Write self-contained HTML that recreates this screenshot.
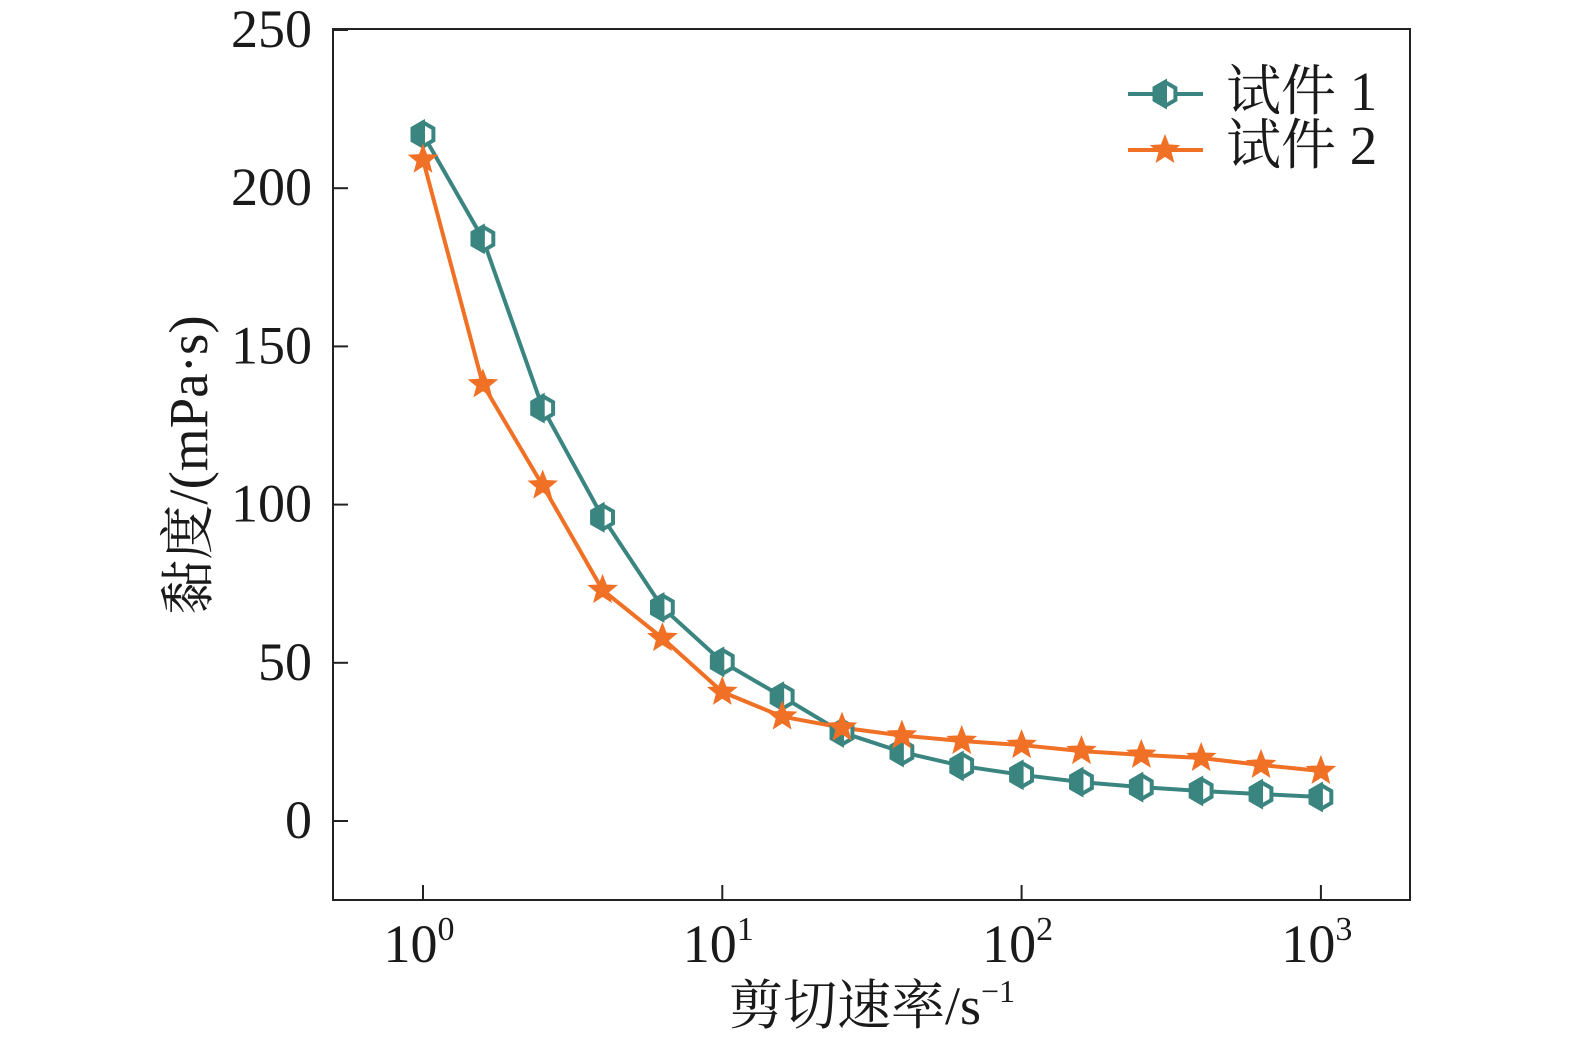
<!DOCTYPE html>
<html><head><meta charset="utf-8"><style>
body{margin:0;background:#fff;}
svg text{font-family:"Liberation Serif","Noto Serif CJK SC",serif;fill:#1a1a1a;}
</style></head><body>
<svg id="chart" width="1575" height="1045" viewBox="0 0 1575 1045" xmlns="http://www.w3.org/2000/svg">
<rect x="333" y="29" width="1077" height="871" fill="none" stroke="#222" stroke-width="2"/>
<g id="axes"></g>
<g id="series"></g>
<text x="872" y="1024" font-size="54" text-anchor="middle">剪切速率/s<tspan font-size="32" dy="-22">−1</tspan></text>
<text transform="translate(207,465) rotate(-90)" font-size="55" text-anchor="middle">黏度/(mPa·s)</text>
<g>
<line x1="1128" y1="94" x2="1203" y2="94" stroke="#3b8580" stroke-width="4"/>
<g id="leg1"></g>
<text x="1226" y="110" font-size="55">试件 1</text>
<line x1="1128" y1="150" x2="1203" y2="150" stroke="#f07026" stroke-width="4"/>
<g id="leg2"></g>
<text x="1226" y="164" font-size="55">试件 2</text>
</g>
</svg>
<script>
const shearRates=[1,1.585,2.512,3.981,6.31,10,15.85,25.12,39.81,63.1,100,158.5,251.2,398.1,631,1000];
const specimen1=[217,184,130.5,96,67.5,50.3,39.3,28,21.8,17.4,14.6,12.3,10.7,9.5,8.5,7.6];
const specimen2=[209,138,106,73,57.8,40.8,33,29.5,27,25.3,24,22.1,20.9,19.9,17.7,15.8];
const yTicks=[0,50,100,150,200,250];
const xTicks=[0,1,2,3];
const NS="http://www.w3.org/2000/svg";
const xs=v=>423+299.3*Math.log10(v);
const ys=v=>821-3.164*v;
function mk(tag,attrs,parent){const e=document.createElementNS(NS,tag);for(const k in attrs)e.setAttribute(k,attrs[k]);parent.appendChild(e);return e;}
const axes=document.getElementById('axes');
yTicks.forEach(t=>{
  const l=mk('line',{x1:333,x2:348,y1:ys(t),y2:ys(t),stroke:'#222','stroke-width':2},axes);
  
  
  const tx=mk('text',{x:312,y:ys(t)+17,'font-size':54,'text-anchor':'end'},axes);
  tx.textContent=t;
  
  
});
xTicks.forEach(t=>{
  const x=xs(Math.pow(10,t));
  const l=mk('line',{x1:x,x2:x,y1:885,y2:900,stroke:'#222','stroke-width':2},axes);
  
  
  const tx=mk('text',{x:x-4,y:962,'font-size':54,'text-anchor':'middle'},axes);
  tx.innerHTML='10<tspan font-size="34" dy="-22">'+t+'</tspan>';
  
  
});
const T='#3b8580',O='#f07026';
function hex(cx,cy,p){
  const r=12,pts=[];
  for(let i=0;i<6;i++){const a=Math.PI/180*(60*i-90);pts.push((cx+r*Math.cos(a)).toFixed(1)+','+(cy+r*Math.sin(a)).toFixed(1));}
  const g=mk('g',{},p);
  mk('polygon',{points:pts.join(' '),fill:'#fff',stroke:T,'stroke-width':4},g);
  const h=r*Math.cos(Math.PI/6);
  mk('polygon',{points:`${cx},${cy-r} ${cx-h},${cy-r/2} ${cx-h},${cy+r/2} ${cx},${cy+r}`,fill:T,stroke:T,'stroke-width':4},g);
  return g;
}
function star(cx,cy,p){
  const pts=[];
  for(let i=0;i<10;i++){const r=i%2?6:14;const a=Math.PI/180*(36*i-90);pts.push((cx+r*Math.cos(a)).toFixed(1)+','+(cy+r*Math.sin(a)).toFixed(1));}
  return mk('polygon',{points:pts.join(' '),fill:O,stroke:O,'stroke-width':1.5},p);
}
const ser=document.getElementById('series');
function line(vals,c,name){
  const pl=mk('polyline',{points:shearRates.map((x,i)=>xs(x)+','+ys(vals[i])).join(' '),fill:'none',stroke:c,'stroke-width':4},ser);
  
  
}
line(specimen1,T,'specimen-1-line');
line(specimen2,O,'specimen-2-line');
shearRates.forEach((x,i)=>{
  const m=hex(xs(x),ys(specimen1[i]),ser);
  
  
});
shearRates.forEach((x,i)=>{
  const m=star(xs(x),ys(specimen2[i]),ser);
  
  
});
const l1=hex(1165,94,document.getElementById('leg1'));


const l2=star(1165,150,document.getElementById('leg2'));


</script>
</body></html>
